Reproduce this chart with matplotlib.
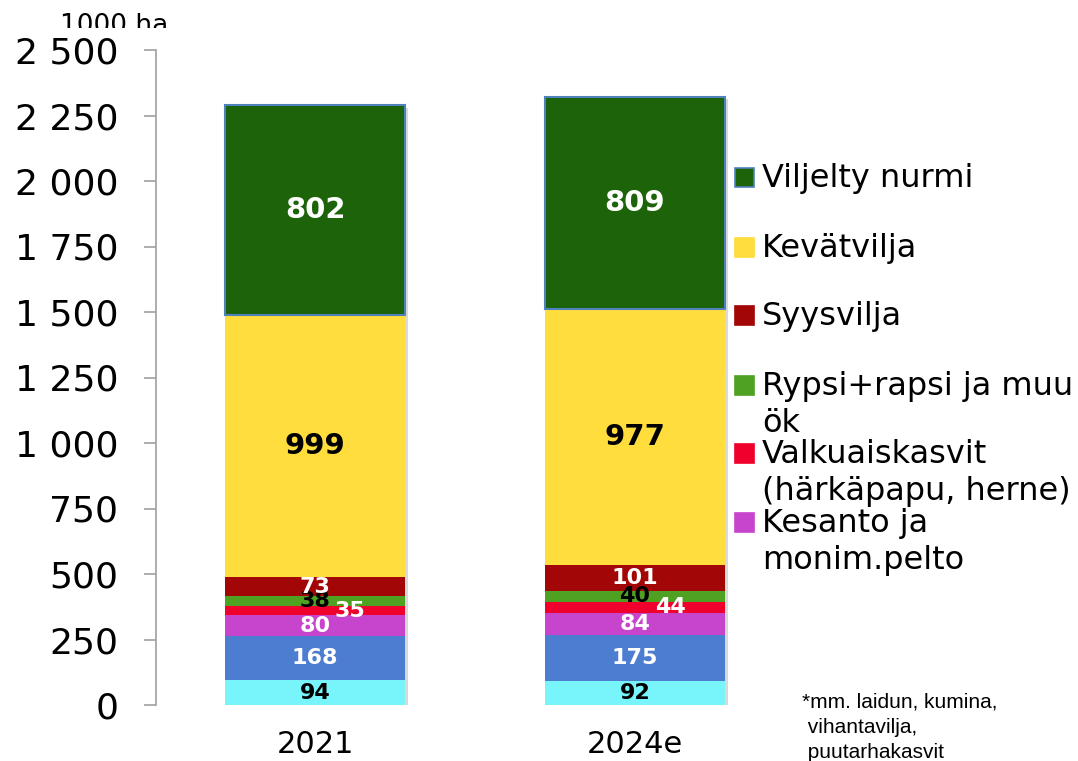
import matplotlib
matplotlib.use("Agg")
import matplotlib.pyplot as plt
import numpy as np
from matplotlib.patches import Rectangle
from matplotlib.ticker import FuncFormatter
from matplotlib.transforms import Bbox, TransformedBbox
import matplotlib.patheffects as pe

# ---------------- data ----------------
years = ["2021", "2024e"]
# stacked from bottom to top
muut = [94, 92]                 # cyan (muut*)
blue_series = [168, 175]        # blue
kesanto = [80, 84]
valkuais = [35, 44]
rypsi = [38, 40]
syysvilja = [73, 101]
kevatvilja = [999, 977]
nurmi = [802, 809]

series_values = [muut, blue_series, kesanto, valkuais, rypsi, syysvilja, kevatvilja, nurmi]
series_colors = ["#77f5fb", "#4d7dd1", "#c745cc", "#f0002d", "#4fa122", "#a30606", "#ffdd3c", "#1c6309"]
label_colors = ["black", "white", "white", "white", "black", "white", "black", "white"]
label_sizes = [16, 16, 16, 16, 16, 16, 21, 21]
label_dx = [0, 0, 0, 0.11, 0, 0, 0, 0]

legend_labels = ["Viljelty nurmi", "Kevätvilja", "Syysvilja",
                 "Rypsi+rapsi ja muu\nök", "Valkuaiskasvit\n(härkäpapu, herne)",
                 "Kesanto ja\nmonim.pelto"]
legend_colors = ["#1c6309", "#ffdd3c", "#a30606", "#4fa122", "#f0002d", "#c745cc"]

y_ticks = list(range(0, 2501, 250))
unit_label = "1000 ha"
footnote = "*mm. laidun, kumina,\n vihantavilja,\n puutarhakasvit"

# ---------------- figure ----------------
W, H = 1078, 761
fig = plt.figure(figsize=(W / 100, H / 100), dpi=100)

def fx(px):
    return px / W

def fy(py):
    return 1 - py / H

ax_left, ax_right, ax_top, ax_bottom = 156, 731, 50, 705
ax = fig.add_axes([fx(ax_left), fy(ax_bottom), (ax_right - ax_left) / W, (ax_bottom - ax_top) / H])

x = np.arange(len(years))
bar_w = 0.5625

# soft shadow behind the stacks
totals = np.sum(np.array(series_values), axis=0)
ax.bar(x, totals, width=bar_w, color="white", zorder=1,
       path_effects=[pe.SimplePatchShadow(offset=(2, -2), shadow_rgbFace="#000000", alpha=0.15), pe.Normal()])

bottom = np.zeros(len(years))
for i, (vals, col) in enumerate(zip(series_values, series_colors)):
    vals = np.array(vals, dtype=float)
    edge = "#4f81bd" if i == len(series_values) - 1 else "none"
    lw = 1.5 if i == len(series_values) - 1 else 0
    ax.bar(x, vals, width=bar_w, bottom=bottom, color=col, edgecolor=edge, linewidth=lw, zorder=2)
    for xi, v, b in zip(x, vals, bottom):
        ax.text(xi + label_dx[i], b + v / 2, f"{int(v)}", ha="center", va="center",
                color=label_colors[i], fontsize=label_sizes[i], fontweight="bold", zorder=5)
    bottom = bottom + vals

ax.set_xlim(-0.497, 1.3)
ax.set_ylim(0, 2500)
ax.set_yticks(y_ticks)
ax.yaxis.set_major_formatter(FuncFormatter(lambda v, p: f"{int(v):,}".replace(",", " ")))
ax.set_xticks(x)
ax.set_xticklabels(years)

for s in ["top", "right", "bottom"]:
    ax.spines[s].set_visible(False)
ax.spines["left"].set_color("#a0a0a0")
ax.spines["left"].set_linewidth(1.2)
ax.tick_params(axis="y", length=9, width=1.2, color="#a0a0a0", pad=18, labelsize=26)
ax.tick_params(axis="x", length=0, pad=18, labelsize=22)

# unit label (lower part cut off, as in reference)
t = fig.text(fx(60), fy(13), unit_label, ha="left", va="top", fontsize=19)
t.set_clip_box(TransformedBbox(Bbox([[0, fy(28)], [1, 1]]), fig.transFigure))
t.set_clip_on(True)

# manual legend
sq_x, sq = 735, 19
baselines = [187, 257, 325, 395, 463, 532]
line_gap = 37
for lab, col, bl in zip(legend_labels, legend_colors, baselines):
    ec = "#4f81bd" if lab == legend_labels[0] else col
    fig.patches.append(Rectangle((fx(sq_x), fy(bl)), sq / W, sq / H, transform=fig.transFigure,
                                 facecolor=col, edgecolor=ec, linewidth=1.2))
    for j, line in enumerate(lab.split("\n")):
        fig.text(fx(762), fy(bl + j * line_gap), line, ha="left", va="baseline", fontsize=23)

# footnote
for j, line in enumerate(footnote.split("\n")):
    fig.text(fx(802), fy(708 + j * 25), line, ha="left", va="baseline", fontsize=15,
             family="Liberation Sans")

fig.savefig("out.png", dpi=100)
